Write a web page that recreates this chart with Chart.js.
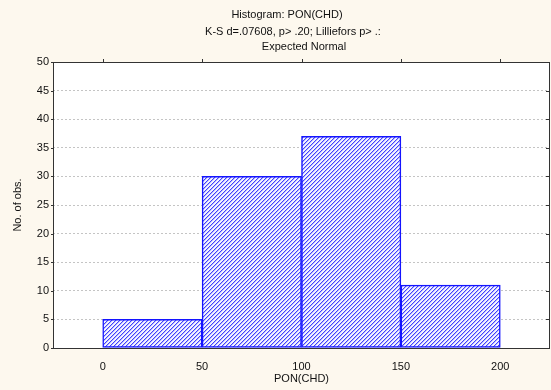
<!DOCTYPE html>
<html>
<head>
<meta charset="utf-8">
<script src="https://cdn.jsdelivr.net/npm/chart.js@4.4.0/dist/chart.umd.min.js"></script>
<style>
  html, body { margin: 0; padding: 0; background: #fdf8ee; }
  #wrap { width: 551px; height: 390px; }
</style>
</head>
<body>
<div id="wrap"><canvas id="myChart" width="551" height="390"></canvas></div>
<script>
// histogram bins and counts
var binEdges = [0, 50, 100, 150, 200];
var counts = [5, 30, 37, 11];
var yTicks = [0, 5, 10, 15, 20, 25, 30, 35, 40, 45, 50];
var xTicks = [0, 50, 100, 150, 200];
var titleLines = ['Histogram: PON(CHD)', 'K-S d=.07608, p> .20; Lilliefors p> .:', 'Expected Normal'];

const init = function(){
  var ctx = document.getElementById('myChart').getContext('2d');

  // diagonal "/" hatch for the bars, pixel by pixel
  var n = 4;
  var pc = document.createElement('canvas');
  pc.width = n; pc.height = n;
  var p = pc.getContext('2d');
  p.fillStyle = '#f4f4ff';
  p.fillRect(0, 0, n, n);
  for (var i = 0; i < n; i++) {
    p.fillStyle = '#4040ff';
    p.fillRect(i, n - 1 - i, 1, 1);
    p.fillStyle = '#b8b8ff';
    p.fillRect((i + 1) % n, n - 1 - i, 1, 1);
  }
  var hatch = ctx.createPattern(pc, 'repeat');

  var points = counts.map(function(c, i){
    return { x: (binEdges[i] + binEdges[i + 1]) / 2, y: c };
  });

  var frame = {
    id: 'frame',
    beforeDraw: function(chart){
      var a = chart.chartArea, c = chart.ctx;
      c.save();
      c.fillStyle = '#fdf8ee';
      c.fillRect(0, 0, chart.width, chart.height);
      c.fillStyle = '#ffffff';
      c.fillRect(a.left, a.top, a.right - a.left, a.bottom - a.top);
      c.restore();
    },
    afterDraw: function(chart){
      var a = chart.chartArea, c = chart.ctx;
      var ys = chart.scales.y, xs = chart.scales.x;
      c.save();
      c.strokeStyle = '#333';
      c.lineWidth = 1;
      c.strokeRect(Math.round(a.left) + 0.5, Math.round(a.top) + 0.5,
        Math.round(a.right - a.left) - 1, Math.round(a.bottom - a.top));
      // small ticks: inward on the right, outward on the left and top
      yTicks.forEach(function(v){
        var y = Math.round(ys.getPixelForValue(v)) + 0.5;
        c.beginPath(); c.moveTo(a.right - 4, y); c.lineTo(a.right, y); c.stroke();
        c.beginPath(); c.moveTo(a.left - 2, y); c.lineTo(a.left, y); c.stroke();
      });
      xTicks.forEach(function(v){
        var x = Math.round(xs.getPixelForValue(v)) + 0.5;
        c.beginPath(); c.moveTo(x, a.top); c.lineTo(x, a.top - 3); c.stroke();
      });
      // titles
      c.fillStyle = '#111';
      c.font = '11px "Liberation Sans", Arial, sans-serif';
      c.textAlign = 'center';
      c.textBaseline = 'middle';
      c.fillText(titleLines[0], 287, 15);
      c.fillText(titleLines[1], 293, 32);
      c.fillText(titleLines[2], 304, 47);
      c.restore();
    }
  };

  var chart = new Chart(ctx, {
    type: 'bar',
    data: {
      datasets: [{
        data: points,
        backgroundColor: hatch,
        borderColor: '#1414ff',
        borderWidth: 1.5,
        borderSkipped: false,
        barPercentage: 1,
        categoryPercentage: 1
      }]
    },
    options: {
      responsive: false,
      animation: false,
      layout: { padding: { top: 62, right: 1, left: 0, bottom: 0 } },
      plugins: {
        legend: { display: false },
        tooltip: { enabled: false }
      },
      scales: {
        x: {
          type: 'linear',
          offset: false,
          min: -25,
          max: 225,
          afterBuildTicks: function(s){ s.ticks = xTicks.map(function(v){ return { value: v }; }); },
          grid: { display: false },
          border: { display: false },
          ticks: { color: '#111', font: { family: 'Liberation Sans', size: 11 }, padding: 4 },
          title: { display: true, text: 'PON(CHD)', color: '#111', font: { family: 'Liberation Sans', size: 11 }, padding: { top: 5 } },
          afterFit: function(s){ s.height = 42; }
        },
        y: {
          min: 0,
          max: 50,
          afterBuildTicks: function(s){ s.ticks = yTicks.map(function(v){ return { value: v }; }); },
          grid: { color: '#c4c4c4', lineWidth: 1, drawTicks: false },
          border: { display: false, dash: [2, 2] },
          ticks: { color: '#111', font: { family: 'Liberation Sans', size: 11 }, padding: 4 },
          title: { display: true, text: 'No. of obs.', color: '#111', font: { family: 'Liberation Sans', size: 11 }, padding: { top: 11, bottom: 3 } },
          afterFit: function(s){ s.width = 53; }
        }
      }
    },
    plugins: [frame]
  });
}

document.addEventListener("DOMContentLoaded", init);
</script>
</body>
</html>
